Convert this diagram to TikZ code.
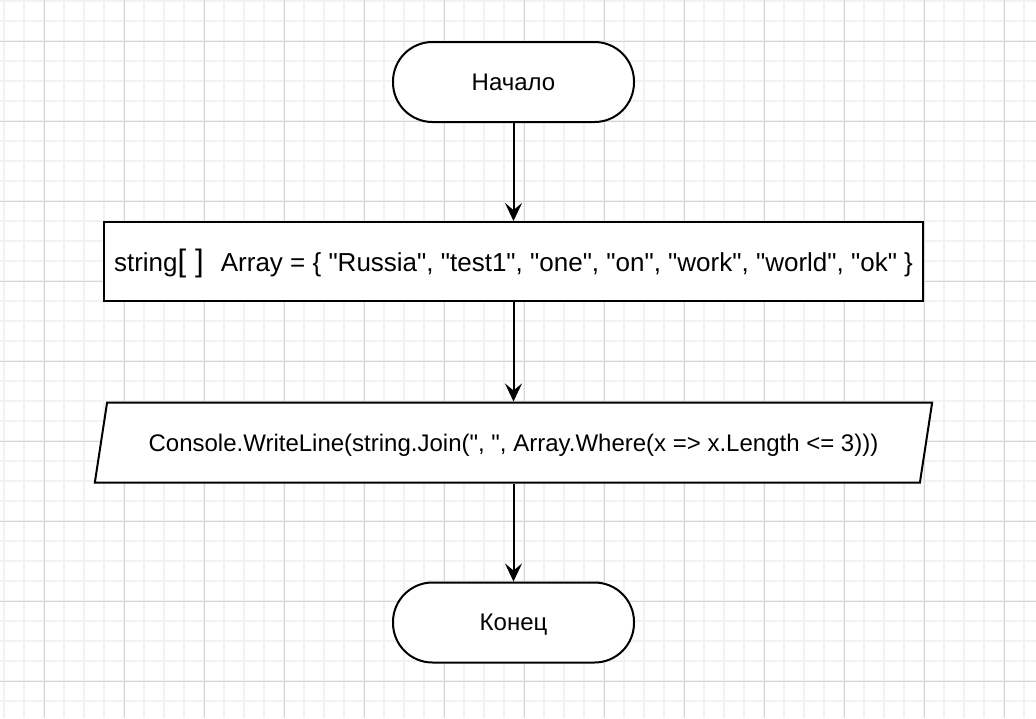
\documentclass[tikz,border=0pt]{standalone}
\usepackage{fontspec}
\setmainfont{Liberation Sans}
\newfontfamily\drawfont{Liberation Sans}
\usetikzlibrary{arrows.meta,shapes.geometric}
\definecolor{gridminor}{HTML}{F2F2F2}
\definecolor{gridmajor}{HTML}{D6D6D6}
\tikzset{
  terminal/.style={draw=black, line width=2pt, fill=white, rounded corners=39.5pt,
    minimum width=241pt, minimum height=80pt, inner sep=0pt,
    text height=16pt, text depth=0pt,
    font=\drawfont\fontsize{24}{28}\selectfont},
  procbox/.style={draw=black, line width=2pt, fill=white,
    minimum width=819pt, minimum height=79pt, inner sep=0pt,
    text height=22pt, text depth=3pt, font=\drawfont},
  iobox/.style={trapezium, trapezium stretches=true, draw=black, line width=2pt, fill=white,
    trapezium left angle=63.43, trapezium right angle=116.57,
    minimum width=839pt, minimum height=80pt, inner sep=0pt,
    text height=20pt, text depth=2pt,
    font=\drawfont\fontsize{24}{28}\selectfont},
  flow/.style={draw=black, line width=2pt, -{Stealth[length=18pt, width=17pt, inset=7pt]}}
}
\begin{document}
\begin{tikzpicture}[x=1pt, y=-1pt]
\useasboundingbox (0,0) rectangle (1036,718);
\fill[white] (0,0) rectangle (1036,718);
% minor grid
\foreach \i in {0,...,51} {
  \draw[gridminor, line width=1.6pt] (4+20*\i,0) -- (4+20*\i,718);
}
\foreach \j in {0,...,35} {
  \draw[gridminor, line width=1.6pt] (0,1+20*\j) -- (1036,1+20*\j);
}
% major grid
\foreach \i in {0,...,12} {
  \draw[gridmajor, line width=1pt] (44+80*\i,0) -- (44+80*\i,718);
}
\foreach \j in {0,...,8} {
  \draw[gridmajor, line width=1pt] (0,41+80*\j) -- (1036,41+80*\j);
}
% nodes
\node[terminal] (start) at (513.5,82) {Начало};
\node[procbox] (arr) at (513.5,261.5) {{\fontsize{26}{30}\selectfont string}\hspace{0pt}{\fontsize{31}{34}\selectfont [\hspace{9pt}]}\hspace{17pt}{\fontsize{26}{30}\selectfont Array = \{ "Russia", "test1", "one", "on", "work", "world", "ok" \}}};
\node[iobox] (out) at (513.5,442.5) {Console.WriteLine(string.Join(", ", Array.Where(x => x.Length <= 3)))};
\node[terminal] (end) at (513.5,622.5) {Конец};
% connectors
\draw[flow] (start) -- (arr);
\draw[flow] (arr) -- (out);
\draw[flow] (out) -- (end);
\end{tikzpicture}
\end{document}
